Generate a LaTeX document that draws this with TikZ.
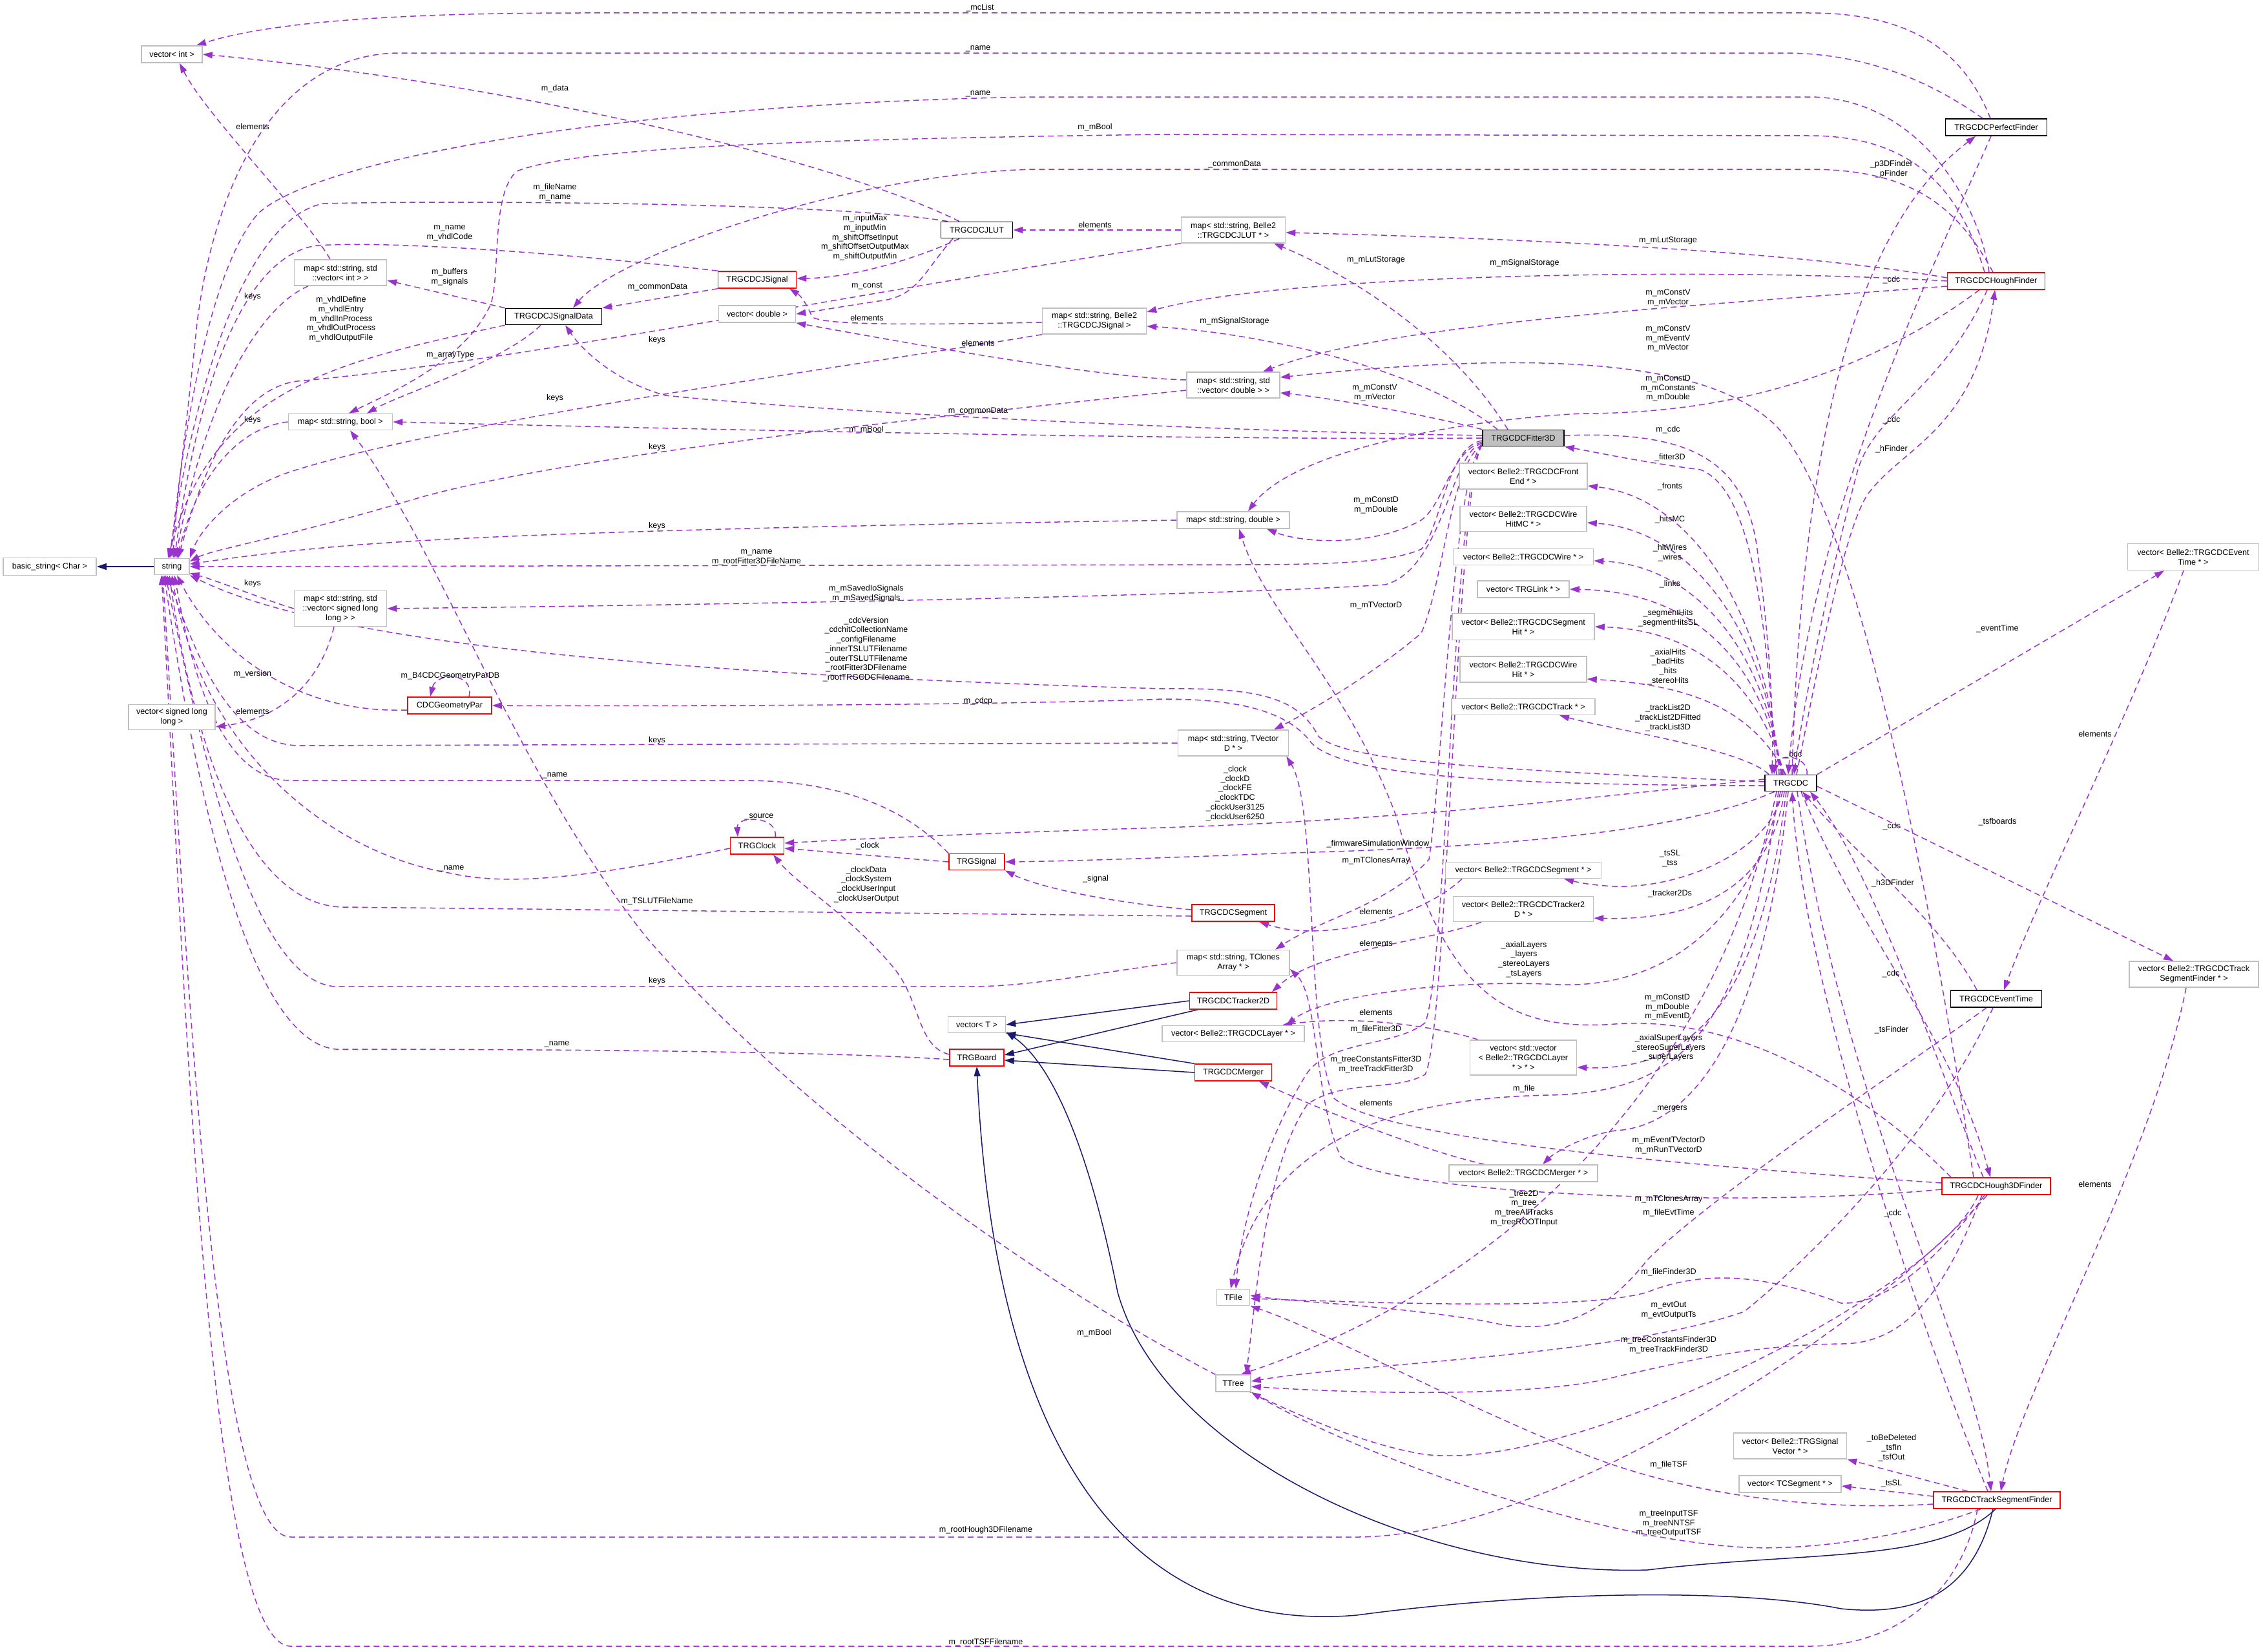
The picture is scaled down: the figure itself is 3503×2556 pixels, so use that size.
\documentclass[tikz,border=0pt]{standalone}
\usepackage{fontspec}
\setmainfont{Liberation Sans}
\usetikzlibrary{arrows.meta,backgrounds}
\definecolor{dpurple}{HTML}{9A32CD}
\definecolor{navyb}{HTML}{191970}
\definecolor{lgrey}{HTML}{BFBFBF}
\newcommand{\nf}{\fontsize{12.6}{15}\selectfont}
\newcommand{\lf}{\fontsize{12.6}{14.7}\selectfont}
\begin{document}
\begin{tikzpicture}[x=1pt,y=-1pt,
  cls/.style={draw=black,line width=1.6pt,fill=white,font=\nf,align=center,inner xsep=3pt,inner ysep=2pt},
  ext/.style={cls,draw=lgrey},
  rbox/.style={cls,draw=red},
  wh/.style 2 args={minimum width=#1pt,minimum height=#2pt},
  dep/.style={draw=dpurple,line width=1.5pt,dash pattern=on 9pt off 6pt,-{Triangle[length=15pt,width=10pt]}},
  inh/.style={draw=navyb,line width=1.5pt,-{Triangle[length=15pt,width=10pt]}},
  lbl/.style={font=\lf,align=center,inner sep=0pt}]
\useasboundingbox (0,0) rectangle (3503,2556);
% ---------------- nodes
\node[ext,wh={94}{26}] (vint) at (266,84) {vector< int >};
\node[ext,wh={143}{40}] (mapvint) at (527,422) {map< std::string, std\\::vector< int > >};
\node[cls,wh={149}{25}] (jsd) at (857,490) {TRGCDCJSignalData};
\node[ext,wh={161}{25}] (mapbool) at (527,653) {map< std::string, bool >};
\node[ext,wh={144}{27}] (bstr) at (77,877) {basic\_string< Char >};
\node[ext,wh={54}{25}] (str) at (266,877) {string};
\node[ext,wh={143}{55}] (mapvsll) at (527,942) {map< std::string, std\\::vector< signed long\\long > >};
\node[ext,wh={134}{39}] (vsll) at (266,1110) {vector< signed long\\long >};
\node[rbox,wh={130}{26}] (cdcgp) at (696,1092) {CDCGeometryPar};
\node[rbox,wh={121}{26}] (jsig) at (1172,433) {TRGCDCJSignal};
\node[cls,wh={111}{25}] (jlut) at (1512,356) {TRGCDCJLUT};
\node[ext,wh={119}{26}] (vdbl) at (1172,486) {vector< double >};
\node[ext,wh={161}{40}] (mapjsig) at (1694,497) {map< std::string, Belle2\\::TRGCDCJSignal >};
\node[ext,wh={161}{40}] (mapjlut) at (1909,356) {map< std::string, Belle2\\::TRGCDCJLUT * >};
\node[ext,wh={144}{40}] (mapvdbl) at (1909,596) {map< std::string, std\\::vector< double > >};
\node[cls,wh={157}{26}] (perf) at (3090,197) {TRGCDCPerfectFinder};
\node[rbox,wh={151}{26}] (hough) at (3090,435) {TRGCDCHoughFinder};
\node[cls,fill=lgrey,wh={126}{25}] (fit) at (2358,678) {TRGCDCFitter3D};
\node[ext,wh={198}{40}] (vfe) at (2358,737) {vector< Belle2::TRGCDCFront\\End * >};
\node[ext,wh={196}{39}] (vwhmc) at (2358,803) {vector< Belle2::TRGCDCWire\\HitMC * >};
\node[ext,wh={217}{25}] (vwire) at (2358,862) {vector< Belle2::TRGCDCWire * >};
\node[ext,wh={142}{26}] (vlink) at (2358,912) {vector< TRGLink * >};
\node[ext,wh={220}{41}] (vsh) at (2358,970) {vector< Belle2::TRGCDCSegment\\Hit * >};
\node[ext,wh={196}{40}] (vwh) at (2358,1036) {vector< Belle2::TRGCDCWire\\Hit * >};
\node[ext,wh={222}{25}] (vtrk) at (2358,1094) {vector< Belle2::TRGCDCTrack * >};
\node[ext,wh={174}{26}] (mapdbl) at (1909,805) {map< std::string, double >};
\node[ext,wh={171}{40}] (maptvd) at (1909,1150) {map< std::string, TVector\\D * >};
\node[cls,wh={80}{25}] (cdc) at (2772,1212) {TRGCDC};
\node[ext,wh={203}{41}] (vet) at (3395,862) {vector< Belle2::TRGCDCEvent\\Time * >};
\node[rbox,wh={83}{26}] (clock) at (1172,1309) {TRGClock};
\node[rbox,wh={86}{25}] (sig) at (1512,1334) {TRGSignal};
\node[ext,wh={89}{25}] (vT) at (1512,1586) {vector< T >};
\node[rbox,wh={84}{26}] (board) at (1512,1637) {TRGBoard};
\node[ext,wh={241}{25}] (vseg) at (2358,1347) {vector< Belle2::TRGCDCSegment * >};
\node[ext,wh={217}{39}] (vtr2) at (2358,1407) {vector< Belle2::TRGCDCTracker2\\D * >};
\node[rbox,wh={128}{26}] (seg) at (1909,1413) {TRGCDCSegment};
\node[ext,wh={174}{39}] (maptca) at (1909,1490) {map< std::string, TClones\\Array * >};
\node[rbox,wh={135}{26}] (tr2) at (1909,1549) {TRGCDCTracker2D};
\node[ext,wh={220}{25}] (vlay) at (1909,1600) {vector< Belle2::TRGCDCLayer * >};
\node[rbox,wh={119}{26}] (merger) at (1909,1660) {TRGCDCMerger};
\node[ext,wh={165}{54}] (vvlay) at (2358,1637) {vector< std::vector\\< Belle2::TRGCDCLayer\\{}* > * >};
\node[ext,wh={230}{26}] (vmerg) at (2358,1816) {vector< Belle2::TRGCDCMerger * >};
\node[ext,wh={51}{25}] (tfile) at (1909,2008) {TFile};
\node[ext,wh={54}{26}] (ttree) at (1909,2141) {TTree};
\node[rbox,wh={168}{26}] (h3d) at (3090,1836) {TRGCDCHough3DFinder};
\node[cls,wh={141}{26}] (evt) at (3090,1546) {TRGCDCEventTime};
\node[ext,wh={200}{40}] (vtsf) at (3396,1508) {vector< Belle2::TRGCDCTrack\\SegmentFinder * >};
\node[rbox,wh={196}{26}] (tsf) at (3091,2322) {TRGCDCTrackSegmentFinder};
\node[ext,wh={175}{40}] (vsv) at (2771,2238) {vector< Belle2::TRGSignal\\Vector * >};
\node[ext,wh={158}{26}] (vtcs) at (2771,2297) {vector< TCSegment * >};
% ---------------- edges
\begin{scope}[on background layer]
% inheritance
\draw[inh] (str.west) -- (bstr.east);
\draw[inh] (tr2.west) -- (vT.east);
\draw[inh] ([xshift=-55pt]tr2.south) -- ([yshift=4pt]board.east);
\draw[inh] (merger.north west) -- (vT.south east);
\draw[inh] (merger.west) -- ([yshift=-4pt]board.east);
\draw[inh] ([xshift=-2pt]tsf.south) .. controls (3000,2420) and (2800,2400) .. (2550,2430) .. controls (2200,2440) and (1800,2250) .. (1730,2000) .. controls (1680,1750) and (1620,1640) .. ([yshift=2pt]vT.south east);
\draw[inh] ([xshift=-6pt]tsf.south) .. controls (3050,2480) and (2950,2500) .. (2850,2490) .. controls (2700,2460) and (2400,2460) .. (2100,2500) .. controls (1750,2530) and (1540,2250) .. (board.south);
% to vector<int>
\draw[dep] ([xshift=-9pt]perf.north) .. controls (3040,80) and (2960,20) .. (2800,20) -- (900,20) .. controls (560,20) and (400,40) .. ([xshift=38pt]vint.north);
\draw[dep] ([xshift=-27pt]jlut.north) .. controls (1300,250) and (800,130) .. (vint.east);
\draw[dep] ([xshift=-16pt]mapvint.north) .. controls (470,330) and (320,180) .. ([xshift=12pt]vint.south);
% to string from above
\draw[dep] ([xshift=-21pt]perf.north) .. controls (2980,120) and (2880,82) .. (2760,82) -- (620,82) .. controls (420,82) and (330,300) .. (305,500) .. controls (290,650) and (272,780) .. ([xshift=2pt]str.north);
\draw[dep] ([xshift=-11pt]hough.north) .. controls (3060,300) and (2960,150) .. (2800,150) -- (1600,150) .. controls (1000,160) and (500,240) .. (400,330) .. controls (320,420) and (280,700) .. ([xshift=-2pt]str.north);
\draw[dep] ([xshift=-45pt]jlut.north) .. controls (1300,313) and (700,310) .. (500,315) .. controls (380,340) and (300,600) .. ([xshift=-4pt]str.north);
\draw[dep] (jsig.north west) .. controls (900,395) and (620,372) .. (490,380) .. controls (360,400) and (300,650) .. ([xshift=4pt]str.north);
\draw[dep] ([xshift=-50pt]mapvint.south) .. controls (390,480) and (310,650) .. ([xshift=6pt]str.north);
\draw[dep] (jsd.south west) .. controls (520,560) and (330,600) .. ([xshift=-6pt]str.north);
\draw[dep] (mapbool.west) .. controls (380,660) and (310,720) .. ([xshift=8pt]str.north);
\draw[dep] (mapjlut.south west) .. controls (1400,440) and (800,560) .. (460,590) .. controls (380,600) and (320,700) .. ([xshift=10pt]str.north);
\draw[dep] (mapjsig.south west) .. controls (1300,570) and (700,650) .. (450,730) .. controls (360,760) and (310,820) .. (str.north east);
\draw[dep] ([yshift=-8pt]mapvdbl.west) .. controls (1500,640) and (900,700) .. (650,770) .. controls (450,830) and (330,850) .. ([yshift=8pt]str.east);
\draw[dep] (mapdbl.west) .. controls (1500,810) and (900,820) .. (600,840) .. controls (450,850) and (350,865) .. ([yshift=4pt]str.east);
\draw[dep] ([yshift=-4pt]fit.west) .. controls (2240,690) and (2230,820) .. (2200,850) .. controls (2150,872) and (2050,874) .. (1900,874) -- (str.east);
\draw[dep] (mapvsll.west) .. controls (400,925) and (340,900) .. ([yshift=-10pt]str.east);
% to string from below
\draw[dep] ([yshift=2pt]cdc.west) .. controls (2300,1190) and (2090,1180) .. (2041,1140) .. controls (2010,1080) and (1950,1064) .. (1800,1066) .. controls (1000,1043) and (500,993) .. (str.south east);
\draw[dep] ([yshift=-7pt]cdcgp.west) .. controls (450,1105) and (330,1000) .. ([xshift=8pt]str.south);
\draw[dep] (sig.north west) .. controls (1400,1250) and (1300,1208) .. (1150,1208) -- (450,1208) .. controls (330,1208) and (290,1000) .. ([xshift=4pt]str.south);
\draw[dep] ([yshift=-4pt]clock.west) .. controls (950,1350) and (800,1375) .. (700,1352) .. controls (500,1320) and (310,1150) .. (str.south);
\draw[dep] ([yshift=-5pt]seg.west) -- (530,1404) .. controls (380,1400) and (300,1150) .. ([xshift=-4pt]str.south);
\draw[dep] (maptvd.west) -- (460,1154) .. controls (350,1150) and (300,1000) .. ([xshift=-8pt]str.south);
\draw[dep] (maptca.west) .. controls (1700,1505) and (1600,1527) .. (1500,1527) -- (520,1527) .. controls (380,1520) and (300,1100) .. ([xshift=-10pt]str.south);
\draw[dep] ([yshift=-3pt]board.west) .. controls (1300,1628) and (900,1624) .. (520,1624) .. controls (380,1610) and (300,1200) .. ([xshift=-12pt]str.south);
\draw[dep] ([xshift=-14pt]h3d.south) .. controls (2900,2050) and (2400,2379) .. (2100,2379) -- (450,2379) .. controls (330,2379) and (290,1500) .. ([xshift=-14pt]str.south);
\draw[dep] ([xshift=-30pt]tsf.south) .. controls (3040,2450) and (2950,2548) .. (2800,2548) -- (450,2548) .. controls (320,2548) and (285,1500) .. ([xshift=-16pt]str.south);
% JSignalData, maps
\draw[dep] (jsd.north west) -- ([yshift=-12pt]mapvint.east);
\draw[dep] ([xshift=-20pt]jsd.south) .. controls (780,560) and (620,610) .. ([xshift=41pt]mapbool.north);
\draw[dep] (jsig.south west) -- (jsd.north east);
\draw[dep] ([xshift=-5pt]hough.north) .. controls (3030,320) and (2960,262) .. (2800,262) -- (1600,262) .. controls (1300,270) and (950,400) .. ([xshift=30pt]jsd.north);
\draw[dep] ([yshift=4pt]fit.west) .. controls (1900,668) and (1300,640) .. (1030,612) .. controls (950,590) and (900,540) .. ([xshift=18pt]jsd.south);
\draw[dep] ([xshift=-18pt]hough.north) .. controls (3030,280) and (2950,210) .. (2800,210) -- (1800,208) .. controls (1300,215) and (900,225) .. (800,265) .. controls (760,300) and (775,420) .. (760,470) .. controls (720,560) and (600,610) .. ([xshift=13pt]mapbool.north);
\draw[dep] (fit.west) .. controls (1800,682) and (900,660) .. (mapbool.east);
\draw[dep] ([xshift=-10pt]mapvsll.south) .. controls (500,1040) and (450,1110) .. ([yshift=-15pt]vsll.east);
\draw[dep] ([yshift=-8pt]fit.west) .. controls (2245,700) and (2235,880) .. (2144,905) .. controls (1900,921) and (1200,935) .. (mapvsll.east);
\draw[dep] ([yshift=-4pt]cdc.west) .. controls (2300,1215) and (2080,1200) .. (2030,1150) .. controls (1990,1095) and (1900,1082) .. (1800,1082) .. controls (1500,1093) and (900,1093) .. (cdcgp.east);
\draw[dep] ([xshift=30pt]cdcgp.north) .. controls (735,1040) and (675,1040) .. ([xshift=-30pt]cdcgp.north);
% clock / signal / segment / board
\draw[dep] ([yshift=5pt]seg.west) .. controls (1700,1395) and (1600,1370) .. (sig.south east);
\draw[dep] (sig.west) -- ([yshift=-4pt]clock.east);
\draw[dep] ([yshift=5pt]board.west) .. controls (1420,1620) and (1425,1550) .. (1385,1500) .. controls (1320,1420) and (1235,1370) .. ([xshift=25pt]clock.south);
\draw[dep] ([xshift=28pt]clock.north) .. controls (1205,1262) and (1140,1262) .. ([xshift=-30pt]clock.north);
\draw[dep] ([yshift=6pt]cdc.west) .. controls (2500,1230) and (2200,1268) .. (1800,1281) .. controls (1500,1290) and (1300,1300) .. ([yshift=4pt]clock.east);
\draw[dep] ([xshift=-25pt]cdc.south) .. controls (2600,1290) and (2300,1312) .. (2000,1320) .. controls (1800,1328) and (1650,1333) .. (sig.east);
% JLUT
\draw[dep] ([xshift=-27pt]jlut.south) .. controls (1420,400) and (1320,430) .. ([yshift=2pt]jsig.east);
\draw[dep] ([xshift=-37pt]jlut.south) .. controls (1430,420) and (1420,460) .. (1360,466) .. controls (1300,475) and (1260,482) .. (vdbl.east);
\draw[dep] (mapjlut.west) -- (jlut.east);
\draw[dep] ([yshift=-2pt]mapjsig.west) .. controls (1450,502) and (1270,505) .. (1257,490) .. controls (1248,470) and (1240,458) .. ([xshift=50pt]jsig.south);
\draw[dep] ([yshift=8pt]mapvdbl.west) .. controls (1700,585) and (1400,530) .. (vdbl.south east);
% Fitter3D
\draw[dep] ([xshift=-24pt]fit.north) .. controls (2250,530) and (2100,430) .. ([xshift=63pt]mapjlut.south);
\draw[dep] ([xshift=-40pt]fit.north) .. controls (2200,570) and (1950,515) .. ([yshift=-8pt]mapjsig.east);
\draw[dep] (fit.north west) .. controls (2200,640) and (2050,615) .. ([yshift=-12pt]mapvdbl.east);
\draw[dep] ([yshift=-6pt]fit.west) .. controls (2245,700) and (2235,780) .. (2200,805) .. controls (2130,845) and (2020,842) .. ([xshift=52pt]mapdbl.south);
\draw[dep] ([yshift=-10pt]fit.west) .. controls (2245,720) and (2235,900) .. (2200,980) .. controls (2130,1040) and (2030,1100) .. ([xshift=63pt]maptvd.north);
\draw[dep] ([yshift=-10pt]fit.west) .. controls (2250,730) and (2232,1200) .. (2212,1330) .. controls (2150,1400) and (2050,1420) .. ([xshift=65pt]maptca.north);
\draw[dep] ([yshift=-11pt]fit.west) .. controls (2250,740) and (2240,1500) .. (2206,1583) .. controls (2160,1620) and (2060,1610) .. (2024,1660) .. controls (1960,1760) and (1920,1900) .. ([xshift=4pt]tfile.north);
\draw[dep] ([yshift=-11pt]fit.west) .. controls (2255,740) and (2240,1600) .. (2206,1663) .. controls (2160,1690) and (2080,1670) .. (2024,1709) .. controls (1960,1800) and (1945,2000) .. ([xshift=20pt]ttree.north);
\draw[dep] ([yshift=4pt]fit.east) .. controls (2600,668) and (2700,700) .. (2720,850) .. controls (2740,1000) and (2745,1100) .. ([xshift=-29pt]cdc.north);
\draw[dep] ([xshift=-22pt]cdc.north) .. controls (2735,1000) and (2720,760) .. (2632,727) .. controls (2540,715) and (2470,700) .. (fit.south east);
% TRGCDC to vectors (right column)
\draw[dep] ([xshift=-18pt]cdc.north) .. controls (2735,950) and (2620,770) .. ([yshift=-15pt]vfe.east);
\draw[dep] ([xshift=-16pt]cdc.north) .. controls (2735,980) and (2620,820) .. ([yshift=-6pt]vwhmc.east);
\draw[dep] ([xshift=-14pt]cdc.north) .. controls (2730,1000) and (2620,875) .. ([yshift=-6pt]vwire.east);
\draw[dep] ([xshift=-12pt]cdc.north) .. controls (2725,1020) and (2620,915) .. (vlink.east);
\draw[dep] ([xshift=-10pt]cdc.north) .. controls (2720,1050) and (2620,975) .. (vsh.east);
\draw[dep] ([xshift=-8pt]cdc.north) .. controls (2715,1100) and (2620,1060) .. ([yshift=-15pt]vwh.east);
\draw[dep] ([xshift=-34pt]cdc.north) .. controls (2700,1160) and (2500,1130) .. ([xshift=56pt]vtrk.south);
\draw[dep] ([xshift=25pt]cdc.north) .. controls (2800,1168) and (2750,1165) .. ([xshift=-26pt]cdc.north);
\draw[dep] (cdc.north east) -- ([xshift=-45pt]vet.south);
\draw[dep] ([yshift=-5pt]cdc.east) -- ([xshift=-32pt]vtsf.north);
\draw[dep] ([xshift=-15pt]vet.south) .. controls (3300,1100) and (3150,1400) .. ([xshift=12pt]evt.north);
\draw[dep] ([xshift=-12pt]vtsf.south) .. controls (3330,1800) and (3130,2150) .. ([xshift=6pt]tsf.north);
% finders and TRGCDC
\draw[dep] ([xshift=2pt]cdc.north) .. controls (2790,600) and (2900,330) .. ([xshift=-32pt]perf.south);
\draw[dep] ([xshift=-8pt]perf.south) .. controls (2990,420) and (2800,800) .. ([xshift=-4pt]cdc.north);
\draw[dep] ([xshift=-14pt]hough.south) .. controls (3010,600) and (2900,640) .. (2875,730) .. controls (2830,900) and (2790,1100) .. ([xshift=5pt]cdc.north);
\draw[dep] ([xshift=9pt]cdc.north) .. controls (2820,1000) and (2860,800) .. (2895,760) .. controls (2950,690) and (3060,660) .. ([xshift=-2pt]hough.south);
\draw[dep] ([yshift=5pt]hough.west) .. controls (2800,392) and (2400,370) .. ([yshift=-4pt]mapjlut.east);
\draw[dep] (hough.west) .. controls (2700,415) and (2000,420) .. ([yshift=14pt]mapjsig.east);
\draw[dep] ([yshift=-8pt]hough.west) .. controls (2600,475) and (2150,500) .. ([xshift=46pt]mapvdbl.north);
\draw[dep] ([xshift=-26pt]hough.south) .. controls (2900,570) and (2700,640) .. (2450,640) .. controls (2250,650) and (2000,700) .. ([xshift=23pt]mapdbl.north);
\draw[dep] ([xshift=-35pt]h3d.north) .. controls (2990,1400) and (2880,800) .. (2750,660) .. controls (2650,560) and (2400,540) .. ([yshift=12pt]mapvdbl.east);
\draw[dep] ([xshift=-30pt]evt.north) .. controls (3000,1420) and (2870,1320) .. ([xshift=18pt]cdc.south);
\draw[dep] ([xshift=16pt]cdc.south) .. controls (2880,1450) and (3020,1600) .. ([xshift=-9pt]h3d.north);
\draw[dep] ([xshift=-20pt]h3d.north) .. controls (3000,1650) and (2900,1350) .. ([xshift=30pt]cdc.south);
\draw[dep] ([xshift=10pt]cdc.south) .. controls (2850,1700) and (3060,2100) .. ([xshift=-9pt]tsf.north);
\draw[dep] ([xshift=-14pt]tsf.north) .. controls (2950,2000) and (2790,1500) .. ([xshift=2pt]cdc.south);
% TRGCDC to middle column
\draw[dep] ([xshift=-13pt]cdc.south) .. controls (2740,1320) and (2600,1375) .. (2500,1372) .. controls (2460,1370) and (2440,1365) .. ([xshift=63pt]vseg.south);
\draw[dep] ([xshift=-10pt]cdc.south) .. controls (2740,1380) and (2620,1425) .. ([yshift=-14pt]vtr2.east);
\draw[dep] ([xshift=-16pt]cdc.south) .. controls (2720,1400) and (2600,1530) .. (2413,1524) .. controls (2250,1515) and (2050,1540) .. ([xshift=82pt]vlay.north);
\draw[dep] ([xshift=-7pt]cdc.south) .. controls (2730,1500) and (2650,1660) .. ([yshift=-15pt]vvlay.east);
\draw[dep] ([xshift=-4pt]cdc.south) .. controls (2730,1600) and (2620,1744) .. (2500,1750) .. controls (2440,1760) and (2400,1790) .. ([xshift=30pt]vmerg.north);
\draw[dep] ([xshift=-19pt]cdc.south) .. controls (2700,1600) and (2600,1690) .. (2400,1695) .. controls (2100,1700) and (1950,1800) .. ([xshift=-4pt]tfile.north);
\draw[dep] ([xshift=-22pt]cdc.south) .. controls (2650,1700) and (2300,2000) .. ([xshift=12pt]ttree.north);
\draw[dep] ([xshift=-95pt]vseg.south) .. controls (2200,1420) and (2050,1460) .. ([xshift=40pt]seg.south);
\draw[dep] ([xshift=-65pt]vtr2.south) .. controls (2200,1460) and (2040,1470) .. ([xshift=60pt]tr2.north);
\draw[dep] ([xshift=-70pt]vvlay.north) .. controls (2230,1590) and (2100,1570) .. ([xshift=76pt]vlay.north);
\draw[dep] ([xshift=-60pt]vmerg.north) .. controls (2200,1780) and (2050,1720) .. ([xshift=40pt]merger.south);
% Hough3D
\draw[dep] ([xshift=-70pt]h3d.north) .. controls (2900,1700) and (2700,1570) .. (2500,1585) .. controls (2300,1600) and (2230,1500) .. (2160,1260) .. controls (2080,1050) and (1960,950) .. ([xshift=9pt]mapdbl.south);
\draw[dep] ([yshift=5pt]h3d.west) .. controls (2700,1810) and (2150,1770) .. (2065,1700) .. controls (2020,1600) and (2040,1250) .. ([xshift=-4pt]maptvd.south east);
\draw[dep] ([yshift=-5pt]h3d.west) .. controls (2700,1870) and (2150,1850) .. (2075,1790) .. controls (2035,1700) and (2040,1540) .. ([yshift=-10pt]maptca.east);
\draw[dep] ([xshift=-18pt]h3d.south) .. controls (3000,1950) and (2920,2020) .. (2850,2017) .. controls (2750,1980) and (2650,1960) .. (2550,2000) .. controls (2450,2030) and (2100,2015) .. ([yshift=-2pt]tfile.east);
\draw[dep] ([xshift=-22pt]h3d.south) .. controls (3010,2000) and (2950,2080) .. (2850,2080) .. controls (2700,2082) and (2600,2110) .. (2505,2130) .. controls (2400,2160) and (2150,2160) .. ([yshift=-5pt]ttree.east);
\draw[dep] ([xshift=-28pt]h3d.south) .. controls (3000,2000) and (2400,2300) .. (2183,2247) .. controls (1900,2190) and (1300,1800) .. (1000,1450) .. controls (800,1200) and (680,850) .. ([xshift=15pt]mapbool.south);
% EventTime
\draw[dep] ([xshift=-15pt]evt.south) .. controls (2950,1650) and (2650,1850) .. (2550,1950) .. controls (2480,2040) and (2400,2070) .. (2300,2045) .. controls (2150,2020) and (2000,2015) .. ([yshift=3pt]tfile.east);
\draw[dep] ([xshift=-5pt]evt.south) .. controls (3000,1750) and (2800,1950) .. (2700,2030) .. controls (2500,2100) and (2100,2110) .. ([yshift=3pt]ttree.east);
% TSF
\draw[dep] ([xshift=-45pt]tsf.north) -- (vsv.south east);
\draw[dep] ([yshift=6pt]tsf.west) -- ([yshift=-3pt]vtcs.east);
\draw[dep] ([yshift=-6pt]tsf.west) .. controls (2800,2340) and (2600,2310) .. (2450,2250) .. controls (2250,2170) and (2050,2060) .. (tfile.south east);
\draw[dep] ([xshift=-25pt]tsf.south) .. controls (2950,2380) and (2800,2400) .. (2700,2395) .. controls (2450,2380) and (2100,2250) .. (ttree.south east);
\end{scope}
% ---------------- labels
\node[lbl] (l1) at (1517,12) {\_mcList};
\node[lbl] (l2) at (1514,75) {\_name};
\node[lbl] (l3) at (859,137) {m\_data};
\node[lbl] (l4) at (1514,145) {\_name};
\node[lbl] (l5) at (1695,197) {m\_mBool};
\node[lbl] (l6) at (1911,254) {\_commonData};
\node[lbl] (l7) at (2928,262) {\_p3DFinder\\\_pFinder};
\node[lbl] (l8) at (859,298) {m\_fileName\\m\_name};
\node[lbl] (l9) at (391,196) {elements};
\node[lbl] (l10) at (1695,348) {elements};
\node[lbl] (l11) at (2582,372) {m\_mLutStorage};
\node[lbl] (l12) at (2130,402) {m\_mLutStorage};
\node[lbl] (l13) at (2360,407) {m\_mSignalStorage};
\node[lbl] (l14) at (2928,433) {\_cdc};
\node[lbl] (l15) at (696,361) {m\_name\\m\_vhdlCode};
\node[lbl] (l16) at (1339,368) {m\_inputMax\\m\_inputMin\\m\_shiftOffsetInput\\m\_shiftOffsetOutputMax\\m\_shiftOutputMin};
\node[lbl] (l17) at (696,429) {m\_buffers\\m\_signals};
\node[lbl] (l18) at (1018,444) {m\_commonData};
\node[lbl] (l19) at (1342,443) {m\_const};
\node[lbl] (l20) at (391,459) {keys};
\node[lbl] (l21) at (2582,461) {m\_mConstV\\m\_mVector};
\node[lbl] (l22) at (528,494) {m\_vhdlDefine\\m\_vhdlEntry\\m\_vhdlInProcess\\m\_vhdlOutProcess\\m\_vhdlOutputFile};
\node[lbl] (l23) at (1342,492) {elements};
\node[lbl] (l24) at (1911,497) {m\_mSignalStorage};
\node[lbl] (l25) at (2582,524) {m\_mConstV\\m\_mEventV\\m\_mVector};
\node[lbl] (l26) at (1017,526) {keys};
\node[lbl] (l27) at (1514,531) {elements};
\node[lbl] (l28) at (697,549) {m\_arrayType};
\node[lbl] (l29) at (2582,601) {m\_mConstD\\m\_mConstants\\m\_mDouble};
\node[lbl] (l30) at (2128,608) {m\_mConstV\\m\_mVector};
\node[lbl] (l31) at (859,616) {keys};
\node[lbl] (l32) at (1514,636) {m\_commonData};
\node[lbl] (l33) at (391,650) {keys};
\node[lbl] (l34) at (2928,650) {\_cdc};
\node[lbl] (l35) at (1341,665) {m\_mBool};
\node[lbl] (l36) at (2582,665) {m\_cdc};
\node[lbl] (l37) at (1017,692) {keys};
\node[lbl] (l38) at (2928,695) {\_hFinder};
\node[lbl] (l39) at (2585,708) {\_fitter3D};
\node[lbl] (l40) at (2585,753) {\_fronts};
\node[lbl] (l41) at (2130,782) {m\_mConstD\\m\_mDouble};
\node[lbl] (l42) at (2585,804) {\_hitsMC};
\node[lbl] (l43) at (1017,814) {keys};
\node[lbl] (l44) at (1171,863) {m\_name\\m\_rootFitter3DFileName};
\node[lbl] (l45) at (2585,856) {\_hitWires\\\_wires};
\node[lbl] (l46) at (391,903) {keys};
\node[lbl] (l47) at (2585,904) {\_links};
\node[lbl] (l48) at (1341,919) {m\_mSavedIoSignals\\m\_mSavedSignals};
\node[lbl] (l49) at (2130,937) {m\_mTVectorD};
\node[lbl] (l50) at (2582,957) {\_segmentHits\\\_segmentHitsSL};
\node[lbl] (l51) at (3092,973) {\_eventTime};
\node[lbl] (l52) at (1341,1005) {\_cdcVersion\\\_cdchitCollectionName\\\_configFilename\\\_innerTSLUTFilename\\\_outerTSLUTFilename\\\_rootFitter3DFilename\\\_rootTRGCDCFilename};
\node[lbl] (l53) at (2582,1032) {\_axialHits\\\_badHits\\\_hits\\\_stereoHits};
\node[lbl] (l54) at (391,1043) {m\_version};
\node[lbl] (l55) at (697,1046) {m\_B4CDCGeometryParDB};
\node[lbl] (l56) at (1514,1085) {m\_cdcp};
\node[lbl] (l57) at (391,1101) {elements};
\node[lbl] (l58) at (2582,1111) {\_trackList2D\\\_trackList2DFitted\\\_trackList3D};
\node[lbl] (l59) at (3243,1136) {elements};
\node[lbl] (l60) at (1017,1146) {keys};
\node[lbl] (l61) at (2776,1168) {\_cdc};
\node[lbl] (l62) at (859,1200) {\_name};
\node[lbl] (l63) at (1912,1228) {\_clock\\\_clockD\\\_clockFE\\\_clockTDC\\\_clockUser3125\\\_clockUser6250};
\node[lbl] (l64) at (1175,1264) {\_source};
\node[lbl] (l65) at (3092,1272) {\_tsfboards};
\node[lbl] (l66) at (2928,1279) {\_cdc};
\node[lbl] (l67) at (2133,1306) {\_firmwareSimulationWindow};
\node[lbl] (l68) at (1343,1309) {\_clock};
\node[lbl] (l69) at (2585,1329) {\_tsSL\\\_tss};
\node[lbl] (l70) at (2130,1332) {m\_mTClonesArray};
\node[lbl] (l71) at (699,1344) {\_name};
\node[lbl] (l72) at (1696,1360) {\_signal};
\node[lbl] (l73) at (2930,1367) {\_h3DFinder};
\node[lbl] (l74) at (1341,1369) {\_clockData\\\_clockSystem\\\_clockUserInput\\\_clockUserOutput};
\node[lbl] (l75) at (2585,1383) {\_tracker2Ds};
\node[lbl] (l76) at (1017,1395) {m\_TSLUTFileName};
\node[lbl] (l77) at (2130,1411) {elements};
\node[lbl] (l78) at (2130,1460) {elements};
\node[lbl] (l79) at (2359,1485) {\_axialLayers\\\_layers\\\_stereoLayers\\\_tsLayers};
\node[lbl] (l80) at (2927,1507) {\_cdc};
\node[lbl] (l81) at (1017,1518) {keys};
\node[lbl] (l82) at (2581,1559) {m\_mConstD\\m\_mDouble\\m\_mEventD};
\node[lbl] (l83) at (2130,1567) {elements};
\node[lbl] (l84) at (2130,1593) {m\_fileFitter3D};
\node[lbl] (l85) at (2928,1594) {\_tsFinder};
\node[lbl] (l86) at (862,1616) {\_name};
\node[lbl] (l87) at (2583,1622) {\_axialSuperLayers\\\_stereoSuperLayers\\\_superLayers};
\node[lbl] (l88) at (2130,1648) {m\_treeConstantsFitter3D\\m\_treeTrackFitter3D};
\node[lbl] (l89) at (2359,1685) {m\_file};
\node[lbl] (l90) at (2130,1707) {elements};
\node[lbl] (l91) at (2585,1716) {\_mergers};
\node[lbl] (l92) at (2583,1773) {m\_mEventTVectorD\\m\_mRunTVectorD};
\node[lbl] (l93) at (3243,1833) {elements};
\node[lbl] (l94) at (2583,1856) {m\_mTClonesArray};
\node[lbl] (l95) at (2359,1870) {\_tree2D\\m\_tree\\m\_treeAllTracks\\m\_treeROOTInput};
\node[lbl] (l96) at (2583,1877) {m\_fileEvtTime};
\node[lbl] (l97) at (2930,1878) {\_cdc};
\node[lbl] (l98) at (2583,1969) {m\_fileFinder3D};
\node[lbl] (l99) at (2583,2028) {m\_evtOut\\m\_evtOutputTs};
\node[lbl] (l100) at (1694,2063) {m\_mBool};
\node[lbl] (l101) at (2583,2082) {m\_treeConstantsFinder3D\\m\_treeTrackFinder3D};
\node[lbl] (l102) at (2928,2241) {\_toBeDeleted\\\_tsfIn\\\_tsfOut};
\node[lbl] (l103) at (2583,2267) {m\_fileTSF};
\node[lbl] (l104) at (2928,2296) {\_tsSL};
\node[lbl] (l105) at (2583,2358) {m\_treeInputTSF\\m\_treeNNTSF\\m\_treeOutputTSF};
\node[lbl] (l106) at (1526,2368) {m\_rootHough3DFilename};
\node[lbl] (l107) at (1526,2542) {m\_rootTSFFilename};
\end{tikzpicture}
\end{document}
